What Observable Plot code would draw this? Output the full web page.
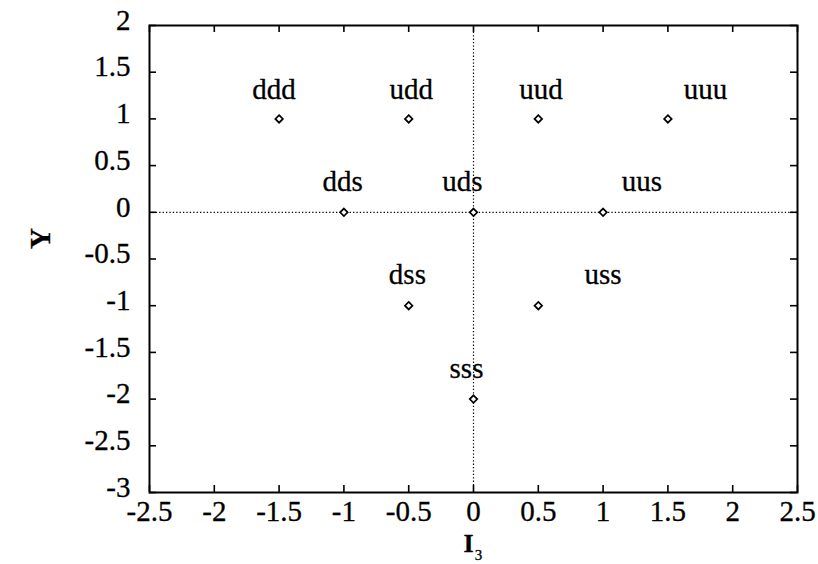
<!DOCTYPE html>
<html>
<head>
<meta charset="utf-8">
<script src="https://cdn.jsdelivr.net/npm/d3@7"></script>
<script src="https://cdn.jsdelivr.net/npm/@observablehq/plot@0.6"></script>
<style>
  body { margin: 0; background: #fff; }
  #chart svg { display: block; background: #fff; }
</style>
</head>
<body>
<div id="chart"></div>
<script>
// Baryon decuplet: quark content placed by isospin I3 and hypercharge Y
const quarks = ["ddd", "udd", "uud", "uuu", "dds", "uds", "uus", "dss", "uss", "sss"];
const i3     = [-1.5, -0.5, 0.5, 1.5, -1, 0, 1, -0.5, 0.5, 0];
const hyper  = [1, 1, 1, 1, 0, 0, 0, -1, -1, -2];
// label anchors (data coordinates of each label's centre)
const labelI3 = [-1.54, -0.48, 0.52, 1.79, -1.01, -0.085, 1.30, -0.51, 1.0, -0.054];
const labelY  = [1.31, 1.31, 1.31, 1.31, 0.33, 0.33, 0.33, -0.67, -0.67, -1.675];
// axis ticks
const xTicks = [-2.5, -2, -1.5, -1, -0.5, 0, 0.5, 1, 1.5, 2, 2.5];
const yTicks = [-3, -2.5, -2, -1.5, -1, -0.5, 0, 0.5, 1, 1.5, 2];

const points = quarks.map((q, i) => ({q, x: i3[i], y: hyper[i], lx: labelI3[i], ly: labelY[i]}));

const width = 818, height = 564;
const mL = 149, mR = 21, mT = 25, mB = 72;
const innerW = width - mL - mR, innerH = height - mT - mB;
const tick = 7;
const fs = 29;
const font = "'Liberation Serif', 'Times New Roman', serif";
const fmt = d => String(d);

const chart = Plot.plot({
  width, height,
  marginLeft: mL, marginRight: mR, marginTop: mT, marginBottom: mB,
  style: {fontFamily: font, fontSize: fs + "px", color: "#000", background: "#fff"},
  x: {domain: [-2.5, 2.5], axis: null},
  y: {domain: [-3, 2], axis: null},
  marks: [
    // dotted zero lines
    Plot.ruleY([0], {stroke: "#000", strokeWidth: 1.2, strokeDasharray: "1.3,2.1"}),
    Plot.ruleX([0], {stroke: "#000", strokeWidth: 1.2, strokeDasharray: "1.3,2.1"}),
    // inward ticks on all four sides
    Plot.tickX(xTicks, {x: d => d, insetTop: innerH - tick, stroke: "#000", strokeWidth: 1.6}),
    Plot.tickX(xTicks, {x: d => d, insetBottom: innerH - tick, stroke: "#000", strokeWidth: 1.6}),
    Plot.tickY(yTicks, {y: d => d, insetRight: innerW - tick, stroke: "#000", strokeWidth: 1.6}),
    Plot.tickY(yTicks, {y: d => d, insetLeft: innerW - tick, stroke: "#000", strokeWidth: 1.6}),
    // tick labels
    Plot.axisX(xTicks, {anchor: "bottom", tickSize: 0, tickPadding: 8, tickFormat: fmt, label: null,
      fontSize: fs, fontFamily: font, fill: "#000"}),
    Plot.axisY(yTicks, {anchor: "left", tickSize: 0, tickPadding: 19, tickFormat: fmt, label: null,
      fontSize: fs, fontFamily: font, fill: "#000", dy: -5}),
    Plot.frame({stroke: "#000", strokeWidth: 2}),
    // axis titles
    Plot.text(["Y"], {frameAnchor: "left", dx: -109, dy: -10, rotate: -90, fontSize: fs,
      fontWeight: "bold", fontFamily: font, fill: "#000"}),
    Plot.text(["I"], {frameAnchor: "bottom", dx: -5, dy: 59, fontSize: 26,
      fontWeight: "bold", fontFamily: font, fill: "#000"}),
    Plot.text(["3"], {frameAnchor: "bottom", dx: 5, dy: 67, fontSize: 15,
      fontFamily: font, fill: "#000"}),
    // states and their labels
    Plot.dot(points, {x: "x", y: "y", symbol: "diamond2", r: 3.4, stroke: "#000", strokeWidth: 1.7, fill: "#fff"}),
    Plot.text(points, {x: "lx", y: "ly", text: "q", fontSize: fs, fontFamily: font, fill: "#000"})
  ]
});

// slightly heavier glyphs, like ink on paper
d3.select(chart).selectAll("text").attr("stroke", "#000").attr("stroke-width", 0.3);

document.getElementById("chart").appendChild(chart);
</script>
</body>
</html>
